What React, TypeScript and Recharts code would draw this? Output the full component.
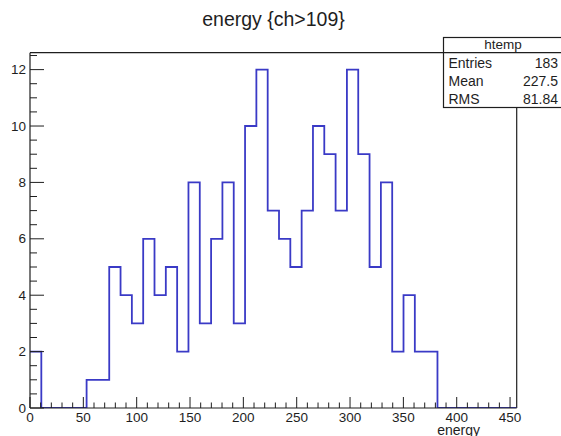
import React from "react";
import { LineChart, Line, XAxis, YAxis, ReferenceLine } from "recharts";

// Histogram "energy {ch>109}" (ROOT htemp)
const BIN_WIDTH = 10.61;
const NBINS = 43;
const binCounts = [
  2, 0, 0, 0, 0, 1, 1, 5, 4, 3, 6, 4, 5, 2, 8, 3, 6, 8, 3, 10, 12, 7, 6, 5, 7,
  10, 9, 7, 12, 9, 5, 8, 2, 4, 2, 2, 0, 0, 0, 0, 0, 0, 0,
];
const xMajorTicks = [0, 50, 100, 150, 200, 250, 300, 350, 400, 450];
const xTicks = Array.from({ length: 46 }, (_, i) => i * 10);
const yMajorTicks = [0, 2, 4, 6, 8, 10, 12];
const yTicks = Array.from({ length: 26 }, (_, i) => i * 0.5);
const statsLabels = ["Entries", "Mean", "RMS"];
const statsValues = ["183", "227.5", "81.84"];

const XMAX = NBINS * BIN_WIDTH;
const YMAX = 12.6;

const data = binCounts
  .map((c, i) => ({ x: i * BIN_WIDTH, y: c }))
  .concat([{ x: XMAX, y: binCounts[NBINS - 1] }]);

const FONT = "'Liberation Sans', Arial, Helvetica, sans-serif";
const INK = "#1e1e1e";

const XTick = (props: any) => {
  const { x, y, payload } = props;
  const v = payload.value;
  const major = xMajorTicks.includes(v);
  return (
    <g>
      <line x1={x} x2={x} y1={y} y2={y - (major ? 11 : 5.5)} stroke={INK} strokeWidth={1} />
      {major && (
        <text x={x} y={y + 14} textAnchor="middle" fontSize={13.5} fill={INK} fontFamily={FONT}>
          {v}
        </text>
      )}
    </g>
  );
};

const YTick = (props: any) => {
  const { x, y, payload } = props;
  const v = payload.value;
  const major = yMajorTicks.includes(v);
  return (
    <g>
      <line x1={x} x2={x + (major ? 14 : 7)} y1={y} y2={y} stroke={INK} strokeWidth={1} />
      {major && (
        <text x={x - 4} y={y + 4.6} textAnchor="end" fontSize={13.5} fill={INK} fontFamily={FONT}>
          {v}
        </text>
      )}
    </g>
  );
};

export default function App() {
  return (
    <div
      style={{
        position: "absolute",
        left: 0,
        top: 0,
        width: 561,
        height: 436,
        overflow: "hidden",
        background: "#ffffff",
      }}
    >
      <LineChart
        width={561}
        height={436}
        data={data}
        margin={{ top: 52.7, right: 44.3, left: 0, bottom: 0 }}
      >
        <XAxis
          dataKey="x"
          type="number"
          domain={[0, XMAX]}
          ticks={xTicks.filter((t) => t <= XMAX)}
          interval={0}
          tick={<XTick />}
          tickLine={false}
          tickSize={0}
          tickMargin={0}
          height={28}
          axisLine={{ stroke: INK, strokeWidth: 1.2 }}
          allowDataOverflow
        />
        <YAxis
          type="number"
          domain={[0, YMAX]}
          ticks={yTicks}
          interval={0}
          tick={<YTick />}
          tickLine={false}
          tickSize={0}
          tickMargin={0}
          width={30}
          axisLine={{ stroke: INK, strokeWidth: 1.2 }}
          allowDataOverflow
        />
        <ReferenceLine y={YMAX} stroke={INK} strokeWidth={1.2} />
        <ReferenceLine x={XMAX} stroke={INK} strokeWidth={1.2} />
        <Line
          type="stepAfter"
          dataKey="y"
          stroke="#3a3ac6"
          strokeWidth={1.8}
          dot={false}
          activeDot={false}
          isAnimationActive={false}
        />
      </LineChart>
      <svg
        width={561}
        height={436}
        style={{ position: "absolute", left: 0, top: 0, pointerEvents: "none" }}
      >
        <text x={273.5} y={26} textAnchor="middle" fontSize={19.5} fill={INK} fontFamily={FONT}>
          {"energy {ch>109}"}
        </text>
        <rect x={443.5} y={37.5} width={121} height={70} fill="#ffffff" stroke={INK} strokeWidth={1.2} />
        <line x1={443.5} x2={561} y1={52.7} y2={52.7} stroke={INK} strokeWidth={1.2} />
        <text x={503} y={48.5} textAnchor="middle" fontSize={13.5} fill={INK} fontFamily={FONT}>
          htemp
        </text>
        {statsLabels.map((lab, i) => (
          <g key={lab}>
            <text x={448.5} y={67.5 + i * 18.2} fontSize={14} fill={INK} fontFamily={FONT}>
              {lab}
            </text>
            <text x={558} y={67.5 + i * 18.2} textAnchor="end" fontSize={14} fill={INK} fontFamily={FONT}>
              {statsValues[i]}
            </text>
          </g>
        ))}
        <text x={480} y={434.5} textAnchor="end" fontSize={14} fill={INK} fontFamily={FONT}>
          energy
        </text>
      </svg>
    </div>
  );
}
